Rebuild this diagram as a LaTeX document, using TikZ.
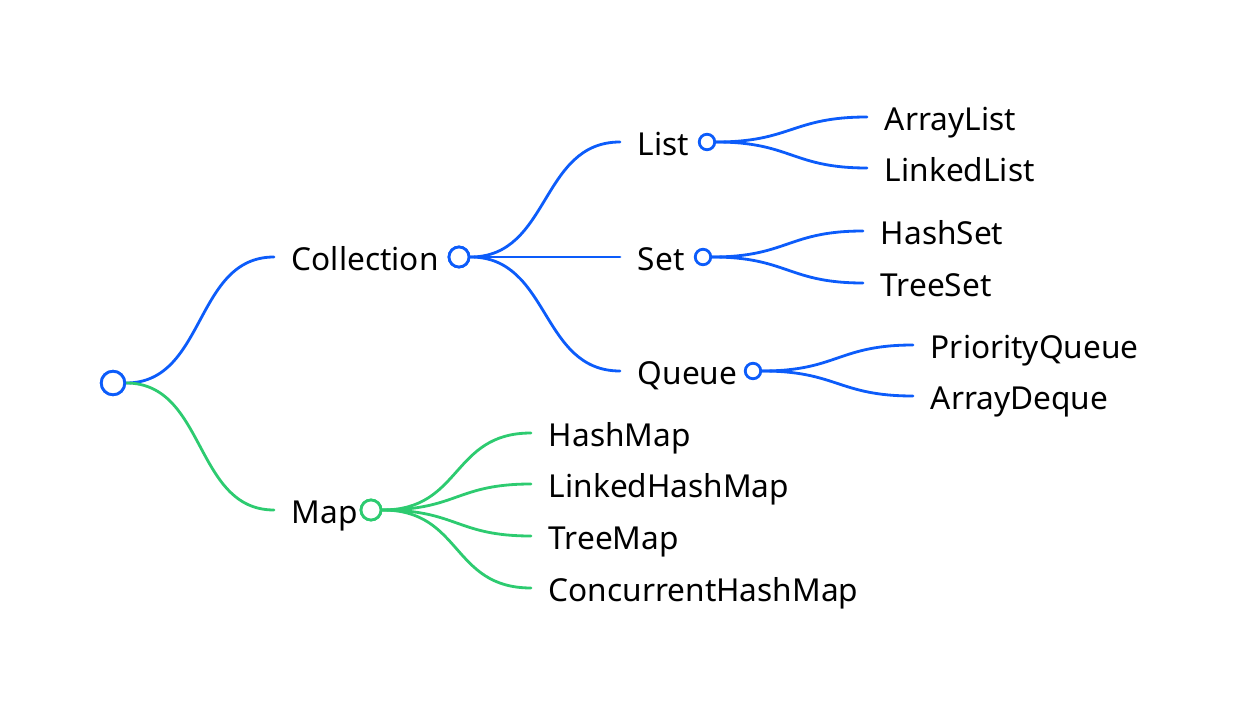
\documentclass[tikz,border=0pt]{standalone}
\usepackage{fontspec}
\setmainfont{Noto Sans}
\usetikzlibrary{positioning}

\definecolor{collblue}{RGB}{12,92,250}
\definecolor{mapgreen}{RGB}{45,203,112}

\begin{document}
\begin{tikzpicture}[x=0.02cm, y=-0.02cm, line cap=round, line join=round,
    itemtext/.style={font=\fontsize{18}{22}\selectfont, inner sep=0pt,
                     text height=15pt, text depth=0pt},
    hub/.style={circle, line width=1.6pt, fill=white, inner sep=0pt,
                minimum size=#1},
    branch/.style={line width=1.6pt}]

  \useasboundingbox (0,0) rectangle (1238,706);

  % ── root ──────────────────────────────────────────────────────────────────

  \node[hub=0.47cm, draw=collblue] (root) at (113,383) {};

  % ── Collection branch ─────────────────────────────────────────────────────

  \coordinate (collin) at (274,257);
  \node[itemtext, right=0.35cm of collin] (coll) {Collection};
  \node[hub=0.40cm, draw=collblue] (collhub) at (459,257) {};
  \draw[branch, collblue] (root.east) .. controls +(80,0) and +(-80,0) .. (collin);

  \coordinate (listin) at (620,142);
  \coordinate (setin) at (620,257);
  \coordinate (queuein) at (620,371);
  \node[itemtext, right=0.35cm of listin] (list) {List};
  \node[itemtext, right=0.35cm of setin] (set) {Set};
  \node[itemtext, right=0.35cm of queuein] (queue) {Queue};
  \node[hub=0.31cm, draw=collblue] (listhub) at (707,142) {};
  \node[hub=0.31cm, draw=collblue] (sethub) at (703,257) {};
  \node[hub=0.31cm, draw=collblue] (queuehub) at (753,371) {};

  \draw[branch, collblue] (collhub.east) .. controls +(80,0) and +(-80,0) .. (listin);
  \draw[branch, collblue] (collhub.east) -- (setin);
  \draw[branch, collblue] (collhub.east) .. controls +(80,0) and +(-80,0) .. (queuein);

  % List
  \coordinate (alistin) at (867,117);
  \coordinate (llistin) at (867,168);
  \node[itemtext, right=0.35cm of alistin] (alist) {ArrayList};
  \node[itemtext, right=0.35cm of llistin] (llist) {LinkedList};
  \draw[branch, collblue] (listhub.east) .. controls +(75,0) and +(-75,0) .. (alistin);
  \draw[branch, collblue] (listhub.east) .. controls +(75,0) and +(-75,0) .. (llistin);

  % Set
  \coordinate (hsetin) at (863,231);
  \coordinate (tsetin) at (863,283);
  \node[itemtext, right=0.35cm of hsetin] (hset) {HashSet};
  \node[itemtext, right=0.35cm of tsetin] (tset) {TreeSet};
  \draw[branch, collblue] (sethub.east) .. controls +(75,0) and +(-75,0) .. (hsetin);
  \draw[branch, collblue] (sethub.east) .. controls +(75,0) and +(-75,0) .. (tsetin);

  % Queue
  \coordinate (pqueuein) at (913,345);
  \coordinate (adequein) at (913,396);
  \node[itemtext, right=0.35cm of pqueuein] (pqueue) {PriorityQueue};
  \node[itemtext, right=0.35cm of adequein] (adeque) {ArrayDeque};
  \draw[branch, collblue] (queuehub.east) .. controls +(75,0) and +(-75,0) .. (pqueuein);
  \draw[branch, collblue] (queuehub.east) .. controls +(75,0) and +(-75,0) .. (adequein);

  % ── Map branch ────────────────────────────────────────────────────────────

  \coordinate (mapin) at (274,510);
  \node[itemtext, right=0.35cm of mapin] (map) {Map};
  \node[hub=0.40cm, draw=mapgreen] (maphub) at (371,510) {};
  \draw[branch, mapgreen] (root.east) .. controls +(80,0) and +(-80,0) .. (mapin);

  \coordinate (hmapin) at (531,433);
  \coordinate (lhmapin) at (531,484);
  \coordinate (tmapin) at (531,536);
  \coordinate (chmapin) at (531,588);
  \node[itemtext, right=0.35cm of hmapin] (hmap) {HashMap};
  \node[itemtext, right=0.35cm of lhmapin] (lhmap) {LinkedHashMap};
  \node[itemtext, right=0.35cm of tmapin] (tmap) {TreeMap};
  \node[itemtext, right=0.35cm of chmapin] (chmap) {ConcurrentHashMap};
  \draw[branch, mapgreen] (maphub.east) .. controls +(80,0) and +(-80,0) .. (hmapin);
  \draw[branch, mapgreen] (maphub.east) .. controls +(75,0) and +(-75,0) .. (lhmapin);
  \draw[branch, mapgreen] (maphub.east) .. controls +(75,0) and +(-75,0) .. (tmapin);
  \draw[branch, mapgreen] (maphub.east) .. controls +(80,0) and +(-80,0) .. (chmapin);

  % redraw hubs on top of the lines
  \node[hub=0.47cm, draw=collblue] at (root) {};
  \node[hub=0.40cm, draw=collblue] at (collhub) {};
  \node[hub=0.40cm, draw=mapgreen] at (maphub) {};

\end{tikzpicture}
\end{document}
